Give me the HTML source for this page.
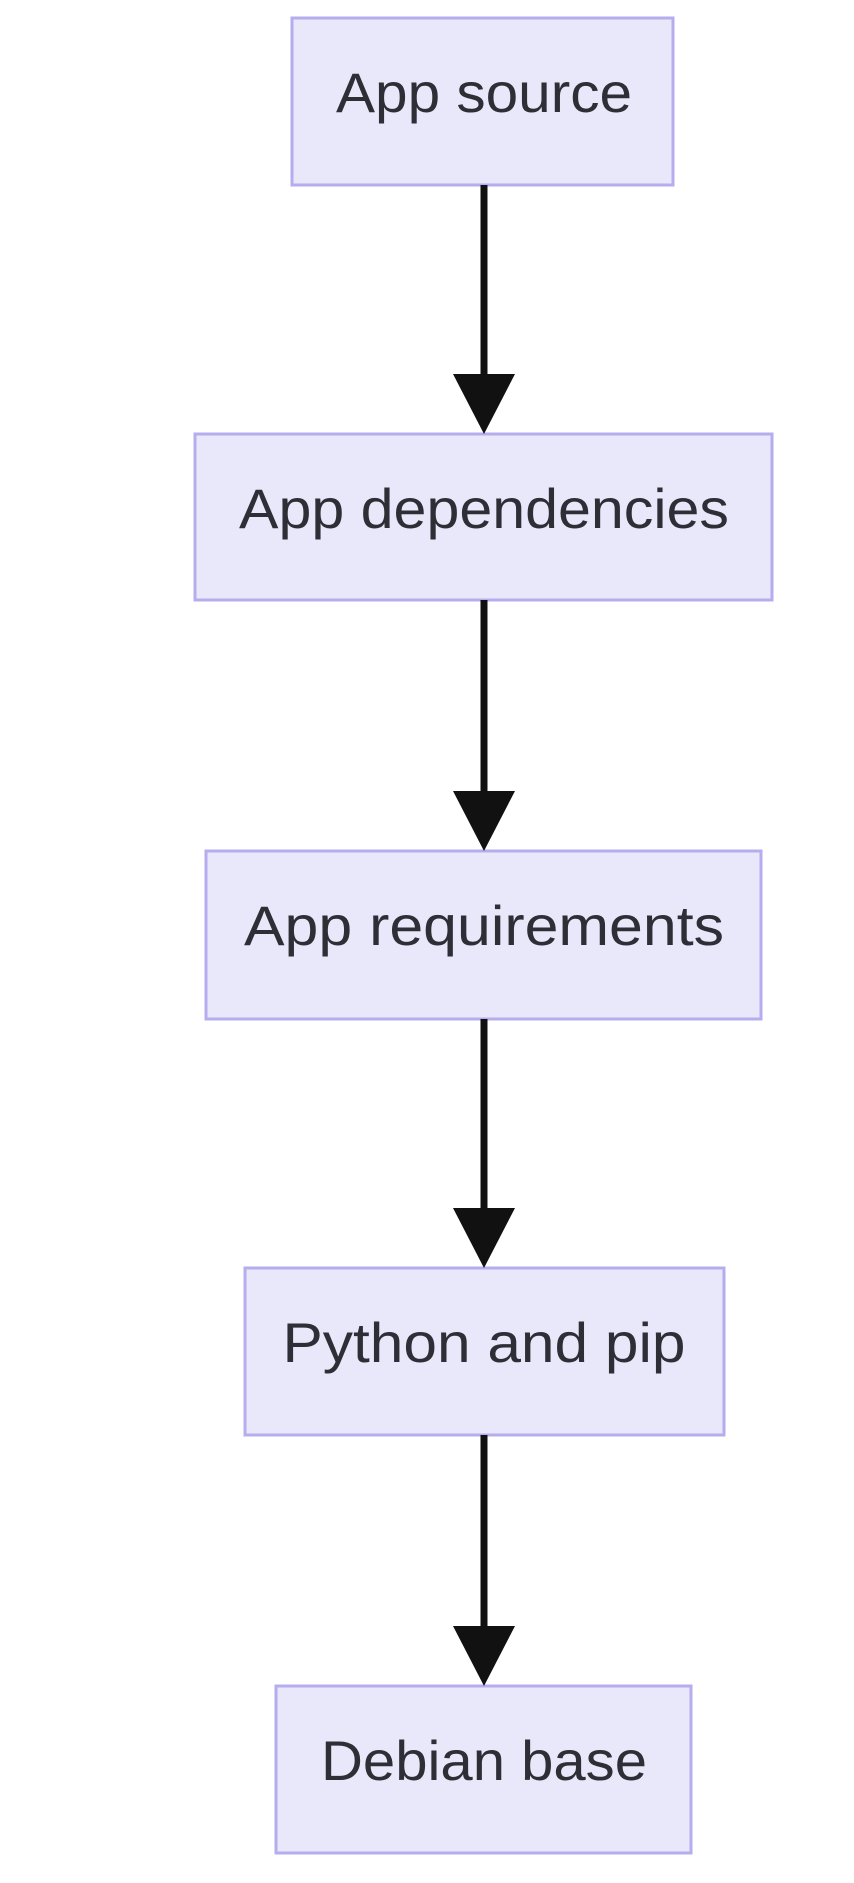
<!DOCTYPE html>
<html><head><meta charset="utf-8"><style>
html,body{margin:0;padding:0;background:#fff;}
svg text{font-family:"Liberation Sans","DejaVu Sans",sans-serif;font-size:56px;fill:#2e2e36;}
</style></head><body>
<svg width="854" height="1878" viewBox="0 0 854 1878" xmlns="http://www.w3.org/2000/svg">
<g fill="#e8e8fa" stroke="#b6adee" stroke-width="3">
<rect x="292" y="18" width="381" height="167"/>
<rect x="195" y="434" width="577" height="166"/>
<rect x="206" y="851" width="555" height="168"/>
<rect x="245" y="1268" width="479" height="167"/>
<rect x="276" y="1686" width="415" height="167"/>
</g>
<g stroke="#111" stroke-width="7">
<line x1="484" y1="185" x2="484" y2="380"/>
<line x1="484" y1="600" x2="484" y2="797"/>
<line x1="484" y1="1019" x2="484" y2="1214"/>
<line x1="484" y1="1435" x2="484" y2="1632"/>
</g>
<g fill="#111">
<polygon points="453,374 515,374 484,434"/>
<polygon points="453,791 515,791 484,851"/>
<polygon points="453,1208 515,1208 484,1268"/>
<polygon points="453,1626 515,1626 484,1686"/>
</g>
<g text-anchor="middle">
<text x="484" y="112" textLength="296" lengthAdjust="spacingAndGlyphs">App source</text>
<text x="484" y="528" textLength="490" lengthAdjust="spacingAndGlyphs">App dependencies</text>
<text x="484" y="945" textLength="480" lengthAdjust="spacingAndGlyphs">App requirements</text>
<text x="484" y="1362" textLength="403" lengthAdjust="spacingAndGlyphs">Python and pip</text>
<text x="484" y="1780" textLength="326" lengthAdjust="spacingAndGlyphs">Debian base</text>
</g>
</svg>
</body></html>
